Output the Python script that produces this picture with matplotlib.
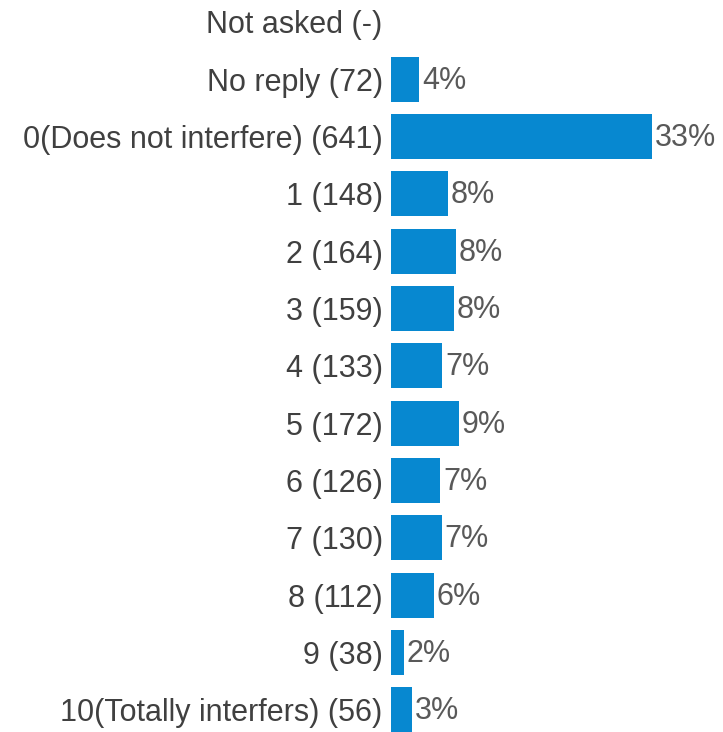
import matplotlib.pyplot as plt

labels = ["Not asked (-)", "No reply (72)", "0(Does not interfere) (641)", "1 (148)", "2 (164)",
          "3 (159)", "4 (133)", "5 (172)", "6 (126)", "7 (130)", "8 (112)", "9 (38)",
          "10(Totally interfers) (56)"]
# bar lengths (share, %)
shares = [0, 3.54, 33.0, 7.25, 8.19, 7.94, 6.49, 8.57, 6.24, 6.46, 5.44, 1.65, 2.70]
pct_labels = ["", "4%", "33%", "8%", "8%", "8%", "7%", "9%", "7%", "7%", "6%", "2%", "3%"]

plt.rcParams["font.family"] = ["Liberation Sans", "DejaVu Sans"]

W, H = 723, 732
fig = plt.figure(figsize=(W / 100, H / 100), dpi=100)
left = 391 / W
ax = fig.add_axes([left, 0, 1 - left, 1])

y = list(range(len(labels)))
ax.barh(y, shares, height=0.785, color="#0788d0")

px_per_pct = 261 / 33.0
ax.set_xlim(0, (W - 391) / px_per_pct)
row = 57.33
ax.set_ylim((H - 22) / row, -22 / row)

ax.set_yticks(y)
ax.set_yticklabels(labels, fontsize=22, color="#404040")
ax.tick_params(axis="y", length=0, pad=6)
ax.set_xticks([])
for s in ax.spines.values():
    s.set_visible(False)

for yi, v, p in zip(y, shares, pct_labels):
    if p:
        ax.annotate(p, (v, yi), xytext=(2, -1), textcoords="offset points",
                    ha="left", va="center", fontsize=22, color="#595959")

fig.savefig("out.png", dpi=100)
